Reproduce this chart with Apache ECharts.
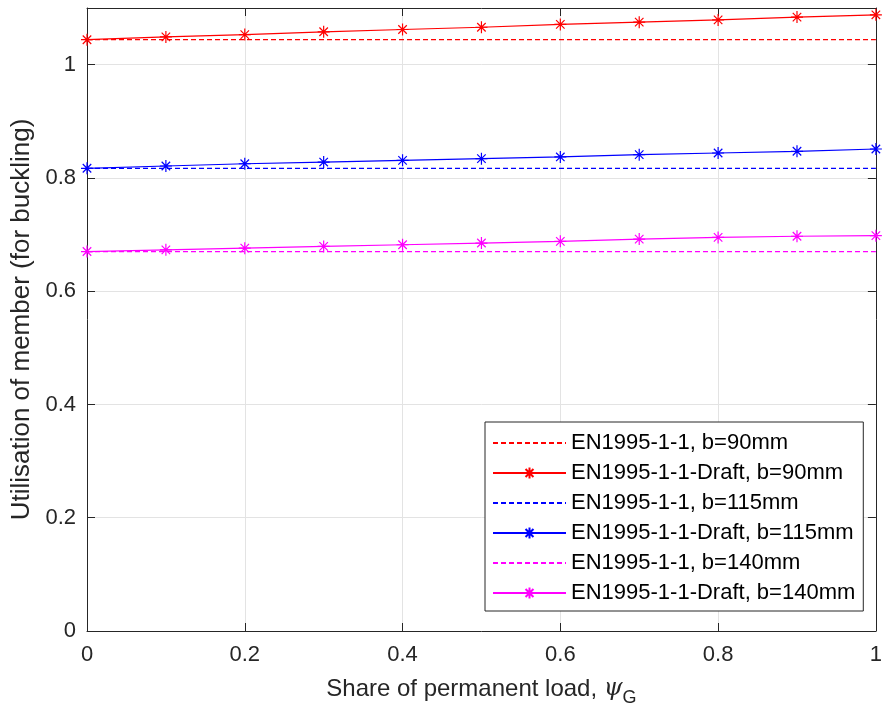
<!DOCTYPE html>
<html>
<head>
<meta charset="utf-8">
<script src="https://cdn.jsdelivr.net/npm/echarts@6/dist/echarts.min.js"></script>
<style>html,body{margin:0;padding:0;background:#fff}#c{width:885px;height:715px}</style>
</head>
<body>
<div id="c"></div>
<script>
const psiG = [0, 0.1, 0.2, 0.3, 0.4, 0.5, 0.6, 0.7, 0.8, 0.9, 1.0];
const en90 = [1.044, 1.044, 1.044, 1.044, 1.044, 1.044, 1.044, 1.044, 1.044, 1.044, 1.044];
const draft90 = [1.044, 1.049, 1.053, 1.058, 1.062, 1.066, 1.071, 1.075, 1.079, 1.084, 1.088];
const en115 = [0.817, 0.817, 0.817, 0.817, 0.817, 0.817, 0.817, 0.817, 0.817, 0.817, 0.817];
const draft115 = [0.817, 0.821, 0.825, 0.828, 0.831, 0.834, 0.837, 0.841, 0.844, 0.847, 0.851];
const en140 = [0.670, 0.670, 0.670, 0.670, 0.670, 0.670, 0.670, 0.670, 0.670, 0.670, 0.670];
const draft140 = [0.670, 0.673, 0.676, 0.679, 0.682, 0.685, 0.688, 0.692, 0.695, 0.697, 0.698];
const seriesNames = ['EN1995-1-1, b=90mm', 'EN1995-1-1-Draft, b=90mm', 'EN1995-1-1, b=115mm', 'EN1995-1-1-Draft, b=115mm', 'EN1995-1-1, b=140mm', 'EN1995-1-1-Draft, b=140mm'];
const xTitle = 'Share of permanent load, ';
const yTitle = 'Utilisation of member (for buckling)';

const FONT = '"Liberation Sans", Arial, Helvetica, sans-serif';
const AX = '#262626';
const GRID = '#e3e3e3';
const asterisk = 'path://M10,0L10,20M0,10L20,10M2.93,2.93L17.07,17.07M2.93,17.07L17.07,2.93';

function pairs(ys){ return psiG.map((x,i)=>[x, ys[i]]); }
function dashed(name, ys, c){
  return {name, type:'line', data:pairs(ys), showSymbol:false, symbol:'circle', z:2,
    lineStyle:{color:c, width:1.3, type:[5,3]}, itemStyle:{color:c}, silent:true, animation:false};
}
function draft(name, ys, c){
  return {name, type:'line', data:pairs(ys), symbol:asterisk, symbolSize:12, z:3,
    lineStyle:{color:c, width:1.2}, itemStyle:{color:c, borderColor:c, borderWidth:1.2}, silent:true, animation:false};
}

const chart = echarts.init(document.getElementById('c'), null, {renderer:'canvas'});
const baseX = {min:0, max:1, interval:0.2};
const baseY = {min:0, max:1.1, interval:0.2};
const tick = {show:true, inside:true, length:8, lineStyle:{color:AX, width:1}};
const line = {show:true, onZero:false, lineStyle:{color:AX, width:1}};
chart.setOption({
  animation:false,
  backgroundColor:'#fff',
  textStyle:{fontFamily:FONT},
  grid:{left:87, right:5, top:8, bottom:84, containLabel:false},
  xAxis:[
    Object.assign({type:'value', position:'bottom',
      axisLine:line, axisTick:tick,
      axisLabel:{color:AX, fontSize:22, fontFamily:FONT, margin:13},
      splitLine:{show:true, lineStyle:{color:GRID, width:1}},
      name: '{t|' + xTitle + '}{p|ψ}{s|G}', nameLocation:'middle', nameGap:40,
      nameTextStyle:{rich:{
        t:{fontSize:24, fontFamily:FONT, color:AX},
        p:{fontSize:24, fontFamily:'"DejaVu Serif", serif', fontStyle:'italic', color:AX},
        s:{fontSize:18, fontFamily:FONT, color:AX, padding:[18,0,0,0]}
      }}
    }, baseX),
    Object.assign({type:'value', position:'top',
      axisLine:line, axisTick:tick,
      axisLabel:{show:false}, splitLine:{show:false}
    }, baseX)
  ],
  yAxis:[
    Object.assign({type:'value', position:'left',
      axisLine:line, axisTick:tick,
      axisLabel:{color:AX, fontSize:22, fontFamily:FONT, margin:11, showMaxLabel:false},
      splitLine:{show:true, lineStyle:{color:GRID, width:1}},
      name: yTitle, nameLocation:'middle', nameGap:52,
      nameTextStyle:{fontSize:26, fontFamily:FONT, color:AX}
    }, baseY),
    Object.assign({type:'value', position:'right',
      axisLine:line, axisTick:tick,
      axisLabel:{show:false}, splitLine:{show:false}
    }, baseY)
  ],
  legend:{
    orient:'vertical', left:485, top:422,
    data:seriesNames.map((n,i)=> i%2===0 ? {name:n, itemStyle:{opacity:0}} : {name:n}),
    itemWidth:73, itemHeight:14, itemGap:8,
    padding:[10,8,7,7],
    backgroundColor:'#fff', borderColor:AX, borderWidth:1,
    textStyle:{fontSize:22, fontFamily:FONT, color:'#000'},
    selectedMode:false
  },
  series:[
    dashed(seriesNames[0], en90, '#ff0000'),
    draft(seriesNames[1], draft90, '#ff0000'),
    dashed(seriesNames[2], en115, '#0000ff'),
    draft(seriesNames[3], draft115, '#0000ff'),
    dashed(seriesNames[4], en140, '#ff00ff'),
    draft(seriesNames[5], draft140, '#ff00ff')
  ]
});
</script>
</body>
</html>
